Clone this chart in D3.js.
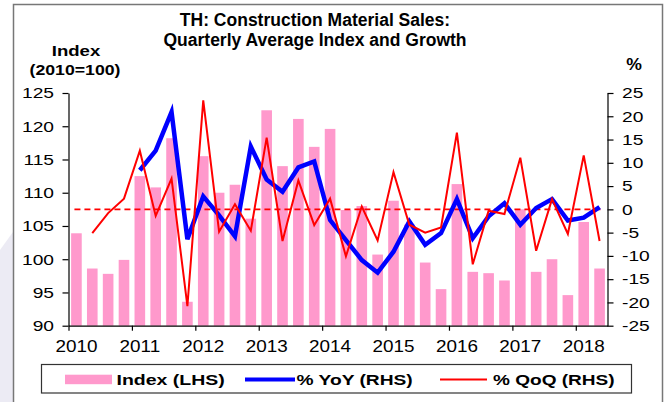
<!DOCTYPE html>
<html>
<head>
<meta charset="utf-8">
<script src="https://d3js.org/d3.v7.min.js"></script>
<style>
    body { margin: 0; background: #fff; }
    svg { display: block; }
    text { font-family: "Liberation Sans", Arial, Helvetica, sans-serif; fill: #000; }
</style>
</head>
<body>
<div id="vis"></div>
<script>
    // quarters 2010Q1 .. 2018Q2
    const years = ["2010", "2011", "2012", "2013", "2014", "2015", "2016", "2017", "2018"];
    const quarters = [];
    years.forEach(y => [1, 2, 3, 4].forEach(q => quarters.push(y + "Q" + q)));
    quarters.splice(34);

    const indexLHS = [103.9, 98.6, 97.8, 99.9, 112.5, 110.8, 118.2, 93.6, 115.5, 110.0, 111.2, 106.1,
        122.4, 114.0, 121.1, 116.9, 119.6, 107.4, 108.0, 100.7, 108.8, 105.2, 99.5, 95.5,
        111.3, 98.1, 97.9, 96.8, 107.5, 98.1, 100.0, 94.6, 105.6, 98.6];
    const yoy = [null, null, null, null, 8.4, 12.6, 20.9, -6.4, 2.8, -1.3, -5.8, 13.5,
        6.4, 3.8, 9.0, 10.3, -2.3, -6.6, -10.9, -13.6, -9.1, -2.6, -7.6, -5.1,
        2.2, -6.2, -1.5, 1.3, -3.3, 0.3, 2.2, -2.4, -1.8, 0.5];
    const qoq = [null, -5.1, -0.8, 2.3, 12.6, -1.4, 6.6, -20.8, 23.4, -4.8, 1.1, -4.6,
        15.4, -6.8, 6.2, -3.4, 2.3, -10.1, 0.6, -6.7, 8.0, -3.3, -5.0, -3.9,
        16.5, -11.8, -0.3, -1.0, 11.1, -8.9, 2.2, -5.3, 11.6, -6.8];
    const leftTicks = [90, 95, 100, 105, 110, 115, 120, 125];
    const rightTicks = [-25, -20, -15, -10, -5, 0, 5, 10, 15, 20, 25];

    const width = 669, height = 402;
    const svg = d3.select("#vis").append("svg").attr("width", width).attr("height", height);

    // faint background shape at the left edge + outer frame
    svg.append("path")
        .attr("d", "M0,250 L13,232 L13,402 L0,402 Z")
        .attr("fill", "#ecebf4");
    svg.append("rect")
        .attr("x", 13.5).attr("y", 4.5).attr("width", 649).attr("height", 420)
        .attr("fill", "#fff").attr("stroke", "#777").attr("stroke-width", 1.5);

    const plotL = 68.5, plotR = 607.5, plotT = 93, plotB = 325.7;
    const x = d3.scaleBand().domain(quarters).range([plotL, plotR])
        .paddingInner(0.33).paddingOuter(0.165);
    const cx = q => x(q) + x.bandwidth() / 2;
    const xi = d3.scaleLinear().domain([0, quarters.length]).range([plotL, plotR]);
    const yL = d3.scaleLinear().domain([90, 125]).range([plotB, plotT]);
    const yR = d3.scaleLinear().domain([-25, 25]).range([plotB, plotT]);

    // text with a little horizontal stretch, like the source picture
    function label(g, tx, ty, str, opt) {
        opt = opt || {};
        return g.append("text")
            .attr("transform", `translate(${tx},${ty}) scale(${opt.sx || 1},1)`)
            .attr("text-anchor", opt.anchor || "start")
            .attr("font-size", opt.size || 15)
            .attr("font-weight", opt.bold ? "bold" : "normal")
            .text(str);
    }

    // bars
    svg.append("g").selectAll("rect")
        .data(quarters.map((q, i) => ({ q: q, v: indexLHS[i] })))
        .join("rect")
        .attr("x", d => x(d.q))
        .attr("width", x.bandwidth())
        .attr("y", d => yL(d.v))
        .attr("height", d => yL(90) - yL(d.v))
        .attr("fill", "#ff99cc");

    // zero line (RHS)
    svg.append("line")
        .attr("x1", cx(quarters[0]) - 2).attr("x2", cx(quarters[quarters.length - 1]) + 2)
        .attr("y1", yR(0)).attr("y2", yR(0))
        .attr("stroke", "#ff0000").attr("stroke-width", 1.6)
        .attr("stroke-dasharray", "6,4");

    const line = d3.line()
        .defined(d => d.v !== null)
        .x(d => cx(d.q))
        .y(d => yR(d.v));

    svg.append("path")
        .datum(quarters.map((q, i) => ({ q: q, v: yoy[i] })))
        .attr("d", line)
        .attr("fill", "none").attr("stroke", "#0000ff")
        .attr("stroke-width", 4.5).attr("stroke-linejoin", "miter");

    svg.append("path")
        .datum(quarters.map((q, i) => ({ q: q, v: qoq[i] })))
        .attr("d", line)
        .attr("fill", "none").attr("stroke", "#ff0000")
        .attr("stroke-width", 2);

    // axes (lines and ticks only)
    const axL = svg.append("g").attr("transform", `translate(${plotL},0)`)
        .call(d3.axisLeft(yL).tickValues(leftTicks).tickSize(6).tickSizeOuter(0).tickFormat(""));
    const axR = svg.append("g").attr("transform", `translate(${plotR},0)`)
        .call(d3.axisRight(yR).tickValues(rightTicks).tickSize(6).tickSizeOuter(0).tickFormat(""));
    const axB = svg.append("g").attr("transform", `translate(0,${plotB})`)
        .call(d3.axisBottom(xi).tickValues(d3.range(0, 33, 4)).tickSize(5).tickSizeOuter(0).tickFormat(""));
    [axL, axR, axB].forEach(a => {
        a.selectAll("path, line").attr("stroke", "#000").attr("stroke-width", 1.2);
    });

    const labels = svg.append("g");
    leftTicks.forEach(t => label(labels, 54, yL(t) + 5.3, t, { anchor: "end", sx: 1.28 }));
    rightTicks.forEach(t => label(labels, 622, yR(t) + 5.3, t, { sx: 1.28 }));
    years.forEach(y => label(labels, cx(y + "Q1"), 352, y, { anchor: "middle", size: 16, sx: 1.18 }));

    // titles
    label(svg, 315, 26, "TH: Construction Material Sales:", { anchor: "middle", size: 17.5, bold: true });
    label(svg, 315, 46, "Quarterly Average Index and Growth", { anchor: "middle", size: 17.5, bold: true });
    label(svg, 76, 56, "Index", { anchor: "middle", size: 15.5, bold: true, sx: 1.2 });
    label(svg, 75, 75, "(2010=100)", { anchor: "middle", size: 15.5, bold: true, sx: 1.14 });
    label(svg, 634, 70, "%", { anchor: "middle", size: 16, bold: true, sx: 1.1 });

    // legend
    const lg = svg.append("g");
    lg.append("rect").attr("x", 41.5).attr("y", 364.5).attr("width", 590).attr("height", 28.5)
        .attr("fill", "#fff").attr("stroke", "#333").attr("stroke-width", 1.2);
    lg.append("rect").attr("x", 65).attr("y", 374.7).attr("width", 47).attr("height", 9.5)
        .attr("fill", "#ff99cc");
    label(lg, 116.5, 384.8, "Index (LHS)", { size: 15, bold: true, sx: 1.3 });
    lg.append("line").attr("x1", 245).attr("x2", 295).attr("y1", 379.5).attr("y2", 379.5)
        .attr("stroke", "#0000ff").attr("stroke-width", 4);
    label(lg, 296.5, 384.8, "% YoY (RHS)", { size: 15, bold: true, sx: 1.28 });
    lg.append("line").attr("x1", 440).attr("x2", 487).attr("y1", 379.5).attr("y2", 379.5)
        .attr("stroke", "#ff0000").attr("stroke-width", 2);
    label(lg, 493, 384.8, "% QoQ (RHS)", { size: 15, bold: true, sx: 1.27 });
</script>
</body>
</html>
